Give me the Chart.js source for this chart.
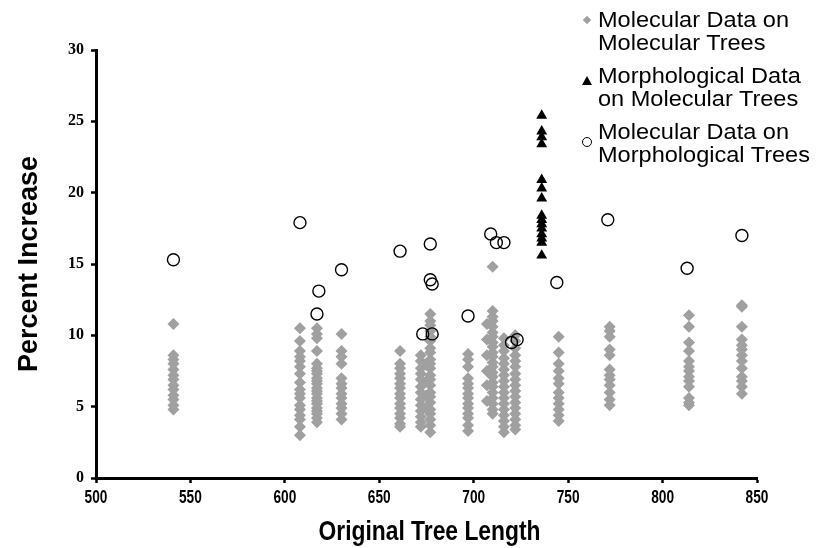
<!DOCTYPE html>
<html>
<head>
<meta charset="utf-8">
<script src="https://cdn.jsdelivr.net/npm/chart.js@4.4.1/dist/chart.umd.min.js"></script>
<style>
  html, body { margin: 0; padding: 0; background: #fff; }
  #wrap { position: relative; width: 816px; height: 548px; }
  #c { position: absolute; left: 0; top: 0; }
  .lg { position: absolute; font-family: "Liberation Sans", Arial, sans-serif; font-size: 22px; line-height: 23px; color: #000; white-space: nowrap; transform-origin: 0 0; transform: scaleX(1.07); }
  .mk { position: absolute; }
  .mk-d { width: 6px; height: 6px; background: #a0a0a0; transform: rotate(45deg); }
  .mk-t { width: 0; height: 0; border-left: 5px solid transparent; border-right: 5px solid transparent; border-bottom: 9px solid #000; }
  .mk-c { width: 8px; height: 8px; border: 1.3px solid #000; border-radius: 50%; box-sizing: content-box; }
</style>
</head>
<body>
<div id="wrap">
  <canvas id="c" width="816" height="548"></canvas>
  <div class="mk mk-d" style="left:584px; top:17px;"></div>
  <div class="lg" style="left:598px; top:8px;">Molecular Data on<br>Molecular Trees</div>
  <div class="mk mk-t" style="left:582px; top:76px;"></div>
  <div class="lg" style="left:598px; top:64px;">Morphological Data<br>on Molecular Trees</div>
  <div class="mk mk-c" style="left:582px; top:137px;"></div>
  <div class="lg" style="left:598px; top:120px;">Molecular Data on<br>Morphological Trees</div>
</div>
<script>
// ---- Data ----
const xTicks = [500, 550, 600, 650, 700, 750, 800, 850];
const yTicks = [0, 5, 10, 15, 20, 25, 30];
const xTitle = 'Original Tree Length';
const yTitle = 'Percent Increase';

// Molecular data on molecular trees (gray diamonds): tree lengths and the values at each
const molMolLengths = [541, 608, 617, 630, 661, 672, 675, 677, 697, 707, 710, 716, 722, 745, 772, 814, 842];
const molMol541 = [10.8, 8.6, 8.3, 8.0, 7.6, 7.2, 6.9, 6.5, 6.2, 5.8, 5.5, 5.1, 4.8];
const molMol608 = [10.5, 9.6, 8.9, 8.5, 8.2, 7.8, 7.3, 6.7, 6.2, 5.9, 5.6, 5.1, 4.8, 4.4, 4.1, 3.6, 3.0];
const molMol617 = [10.5, 10.1, 9.8, 8.9, 8.0, 7.7, 7.5, 7.3, 7.0, 6.8, 6.6, 6.3, 6.1, 5.9, 5.6, 5.4, 5.2, 4.9, 4.7, 4.5, 4.2, 3.9];
const molMol630 = [10.1, 8.9, 8.5, 8.0, 7.0, 6.6, 6.3, 5.9, 5.6, 5.2, 4.9, 4.5, 4.1];
const molMol661 = [8.9, 8.0, 7.7, 7.3, 7.0, 6.6, 6.3, 5.9, 5.6, 5.2, 4.9, 4.5, 4.2, 3.8, 3.6];
const molMol672 = [8.6, 8.2, 7.7, 7.3, 6.9, 6.4, 6.0, 5.5, 5.1, 4.7, 4.3, 3.9, 3.6];
const molMol675 = [7.9, 6.8, 5.8, 4.9];
const molMol677 = [11.5, 11.0, 10.7, 10.3, 9.9, 9.6, 9.1, 8.8, 8.3, 8.0, 7.7, 7.2, 6.9, 6.5, 6.0, 5.7, 5.3, 4.8, 4.5, 4.1, 3.7, 3.2];
const molMol697 = [8.7, 8.3, 7.8, 7.0, 6.6, 6.3, 5.9, 5.6, 5.2, 4.9, 4.5, 4.2, 3.7, 3.3];
const molMol707 = [10.8, 9.7, 8.6, 7.5, 6.5, 5.4];
const molMol710 = [14.8, 11.7, 11.3, 11.0, 10.6, 10.2, 9.9, 9.5, 9.2, 8.8, 8.5, 8.1, 7.8, 7.4, 7.1, 6.7, 6.4, 6.0, 5.6, 5.2, 4.8, 4.5];
const molMol716 = [9.8, 9.3, 8.9, 8.4, 8.0, 7.6, 7.2, 6.8, 6.4, 6.0, 5.6, 5.2, 4.8, 4.4, 4.0, 3.6, 3.2];
const molMol722 = [10.0, 9.6, 9.1, 8.6, 8.2, 7.8, 7.3, 6.9, 6.5, 6.1, 5.7, 5.3, 4.9, 4.5, 4.1, 3.7, 3.4];
const molMol745 = [9.9, 8.8, 8.0, 7.5, 7.0, 6.6, 6.0, 5.6, 5.2, 4.8, 4.4, 4.0];
const molMol772 = [10.6, 10.3, 9.9, 9.0, 8.6, 7.6, 7.2, 6.9, 6.5, 6.0, 5.5, 5.1];
const molMol814 = [11.4, 10.6, 9.5, 8.9, 8.2, 7.8, 7.5, 7.1, 6.8, 6.4, 5.6, 5.3, 5.1];
const molMol842 = [12.1, 12.0, 10.6, 9.7, 9.3, 9.0, 8.6, 8.2, 7.7, 7.1, 6.8, 6.4, 5.9];
const molMolValues = [molMol541, molMol608, molMol617, molMol630, molMol661, molMol672, molMol675, molMol677,
                      molMol697, molMol707, molMol710, molMol716, molMol722, molMol745, molMol772, molMol814, molMol842];

// Morphological data on molecular trees (black triangles)
const morphMolLength = 736;
const morphMolValues = [25.4, 24.3, 23.9, 23.4, 20.9, 20.3, 19.6, 18.4, 18.1, 17.8, 17.5, 17.1, 16.8, 16.5, 15.6];

// Molecular data on morphological trees (open circles)
const molMorphLengths = [541, 608, 618, 617, 630, 661, 677, 677, 678, 673, 678, 697, 709, 712, 716, 720, 723, 744, 771, 813, 842];
const molMorphValues  = [15.3, 17.9, 13.1, 11.5, 14.6, 15.9, 16.4, 13.9, 13.6, 10.1, 10.1, 11.35, 17.1, 16.5, 16.5, 9.5, 9.7, 13.7, 18.1, 14.7, 17.0];

// ---- Build datasets ----
const diamonds = [];
molMolLengths.forEach((x, i) => molMolValues[i].forEach(y => diamonds.push({x: x, y: y})));
const triangles = morphMolValues.map(y => ({x: morphMolLength, y: y}));
const circles = molMorphLengths.map((x, i) => ({x: x, y: molMorphValues[i]}));

const axisCommon = {
  grid: { display: true, drawOnChartArea: false, drawTicks: true, tickLength: 5, tickColor: '#000', tickWidth: 2.5 },
  border: { display: true, color: '#000', width: 3 }
};

// Draws the condensed x-axis tick labels and title from the x scale
const condensedXAxis = {
  id: 'condensedXAxis',
  afterDraw(chart) {
    const ctx = chart.ctx, xs = chart.scales.x;
    ctx.save();
    ctx.fillStyle = '#000';
    ctx.textAlign = 'center';
    ctx.textBaseline = 'alphabetic';
    ctx.font = 'bold 18px "Liberation Sans", Arial, sans-serif';
    xs.ticks.forEach(t => {
      ctx.save();
      ctx.translate(xs.getPixelForValue(t.value), xs.top + 25);
      ctx.scale(0.76, 1);
      ctx.fillText(String(t.value), 0, 0);
      ctx.restore();
    });
    ctx.font = 'bold 28px "Liberation Sans", Arial, sans-serif';
    ctx.save();
    ctx.translate((xs.left + xs.right) / 2 + 3, xs.top + 62);
    ctx.scale(0.815, 1);
    ctx.fillText(xTitle, 0, 0);
    ctx.restore();
    ctx.restore();
  }
};

new Chart(document.getElementById('c'), {
  type: 'scatter',
  data: {
    datasets: [
      { label: 'Molecular Data on Molecular Trees', data: diamonds, pointStyle: 'rectRot', radius: 6,
        backgroundColor: '#a0a0a0', borderColor: '#a0a0a0', borderWidth: 0, order: 3 },
      { label: 'Morphological Data on Molecular Trees', data: triangles, pointStyle: 'triangle', radius: 6.3,
        backgroundColor: '#000', borderColor: '#000', borderWidth: 0, order: 2 },
      { label: 'Molecular Data on Morphological Trees', data: circles, pointStyle: 'circle', radius: 6,
        backgroundColor: 'rgba(0,0,0,0)', borderColor: '#000', borderWidth: 1.4, order: 1 }
    ]
  },
  options: {
    responsive: false,
    animation: false,
    events: [],
    layout: { padding: { top: 50, right: 59, left: 0, bottom: 0 } },
    plugins: { legend: { display: false }, tooltip: { enabled: false } },
    scales: {
      x: Object.assign({}, axisCommon, {
        type: 'linear', min: xTicks[0], max: xTicks[xTicks.length - 1],
        afterBuildTicks: s => { s.ticks = xTicks.map(v => ({value: v})); },
        afterFit: s => { s.height = 70; },
        ticks: { display: false },
        title: { display: false, text: xTitle }
      }),
      y: Object.assign({}, axisCommon, {
        type: 'linear', min: yTicks[0], max: yTicks[yTicks.length - 1],
        afterBuildTicks: s => { s.ticks = yTicks.map(v => ({value: v})); },
        afterFit: s => { s.width = 96; },
        ticks: { color: '#000', padding: 7,
                 font: { family: '"Liberation Serif", "Times New Roman", serif', size: 16, weight: 'bold' } },
        title: { display: true, text: yTitle, color: '#000', padding: { top: 13, bottom: 0 },
                 font: { family: '"Liberation Sans", Arial, sans-serif', size: 27, weight: 'bold' } }
      })
    }
  },
  plugins: [condensedXAxis]
});
</script>
</body>
</html>
